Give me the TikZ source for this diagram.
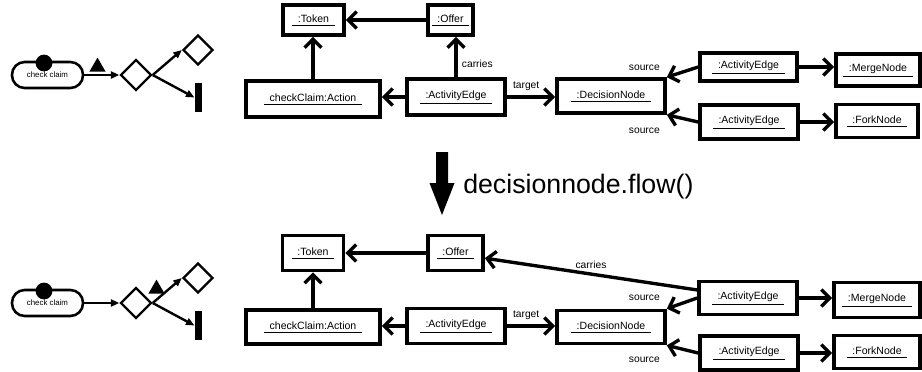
\documentclass[tikz,border=0pt]{standalone}
\usepackage{fontspec}
\setmainfont{Liberation Sans}
\usetikzlibrary{arrows.meta,shapes.geometric}

\newcommand{\objname}[1]{\vtop{\hbox{\kern4pt#1\kern4pt}\kern1.6pt\hrule height0.7pt}}

\begin{document}
\begin{tikzpicture}[x=0.025cm,y=-0.025cm]
\tikzstyle{every node}+=[inner sep=0pt]
\tikzstyle{obj}=[draw, line width=2.6pt, font=\fontsize{7.5}{9}\selectfont]
\tikzstyle{role}=[font=\fontsize{7.3}{9}\selectfont, inner sep=1pt]
\tikzstyle{link}=[line width=2.4pt, -{Straight Barb[length=6pt,width=12pt]}]
\tikzstyle{flow}=[line width=1.7pt, -{Triangle[length=6pt,width=5pt]}]
\tikzstyle{act}=[draw, line width=1.8pt, rounded corners=9pt, minimum width=1.775cm, minimum height=0.65cm, font=\fontsize{5.6}{7}\selectfont]
\tikzstyle{choice}=[draw, diamond, line width=1.7pt]
\tikzstyle{tokdot}=[circle, fill, minimum size=0.42cm]
\tikzstyle{toktri}=[regular polygon, regular polygon sides=3, fill, minimum size=0.47cm]
\tikzstyle{forkbar}=[fill, minimum width=0.19cm, minimum height=0.725cm]
\useasboundingbox (0,0) rectangle (922,371);

\node[act] (claimA) at (47.5,75) {check claim};
\node[tokdot] (dotA) at (44,63) {};
\node[choice, minimum size=0.775cm] (decideA) at (136,75) {};
\node[choice, minimum size=0.75cm] (nextA) at (198,50) {};
\node[forkbar] (barA) at (198.5,97.5) {};
\node[toktri] (triA) at (97.5,67) {};
\draw[flow] (claimA) -- (decideA);
\draw[flow] (decideA.east) -- (nextA.west);
\draw[flow] (decideA.east) -- (barA.west);

\node[obj, minimum width=1.525cm, minimum height=0.75cm] (tokenA) at (313.5,20) {\objname{:Token}};
\node[obj, minimum width=1.125cm, minimum height=0.75cm] (offerA) at (450.5,20) {\objname{:Offer}};
\node[obj, minimum width=3.35cm, minimum height=0.9cm] (actionA) at (313,99) {\objname{checkClaim:Action}};
\node[obj, minimum width=2.45cm, minimum height=0.9cm] (edgeA) at (456,97) {\objname{:ActivityEdge}};
\node[obj, minimum width=2.7cm, minimum height=0.85cm] (decA) at (611,96) {\objname{:DecisionNode}};
\node[obj, minimum width=2.425cm, minimum height=0.7cm] (upA) at (748.5,67) {\objname{:ActivityEdge}};
\node[obj, minimum width=2.1cm, minimum height=0.8cm] (mergeA) at (878,70) {\objname{:MergeNode}};
\node[obj, minimum width=2.45cm, minimum height=0.85cm] (loA) at (749,122) {\objname{:ActivityEdge}};
\node[obj, minimum width=2.05cm, minimum height=0.825cm] (forkA) at (877,121) {\objname{:ForkNode}};
\draw[link] (offerA) -- (tokenA);
\draw[link] (actionA.north) -- (actionA.north |- tokenA.south);
\draw[link] (edgeA.north) -- (edgeA.north |- offerA.south) node[role, pos=0.34, right=2pt] {carries};
\draw[link] (edgeA.west) -- (edgeA.west -| actionA.east);
\draw[link] (edgeA.east) -- (edgeA.east -| decA.west) node[role, pos=0.4, above=2pt] {target};
\draw[link] (upA.west) -- (decA.north east) node[role, at end, anchor=east, xshift=-0.1cm, yshift=0.225cm] {source};
\draw[link] (loA.west) -- (decA.south east) node[role, at end, anchor=east, xshift=-0.1cm, yshift=-0.4cm] {source};
\draw[link] (upA.east) -- (upA.east -| mergeA.west);
\draw[link] (loA.east) -- (loA.east -| forkA.west);

\fill (436,152) -- (448,152) -- (448,183) -- (454.5,183) -- (442,215) -- (429.5,183) -- (436,183) -- cycle;
\node[anchor=base west, font=\fontsize{19}{22}\selectfont] (call) at (463,193) {decisionnode.flow()};

\node[act] (claimB) at (47.5,303) {check claim};
\node[tokdot] (dotB) at (44,291) {};
\node[choice, minimum size=0.775cm] (decideB) at (136,303) {};
\node[choice, minimum size=0.75cm] (nextB) at (198,278) {};
\node[forkbar] (barB) at (198.5,325.5) {};
\node[toktri] (triB) at (156.5,289) {};
\draw[flow] (claimB) -- (decideB);
\draw[flow] (decideB.east) -- (nextB.west);
\draw[flow] (decideB.east) -- (barB.west);

\node[obj, minimum width=1.525cm, minimum height=0.875cm] (tokenB) at (313,253) {\objname{:Token}};
\node[obj, minimum width=1.375cm, minimum height=0.875cm] (offerB) at (455.5,253) {\objname{:Offer}};
\node[obj, minimum width=3.35cm, minimum height=0.85cm] (actionB) at (313,327) {\objname{checkClaim:Action}};
\node[obj, minimum width=2.45cm, minimum height=0.875cm] (edgeB) at (456,326) {\objname{:ActivityEdge}};
\node[obj, minimum width=2.7cm, minimum height=0.825cm] (decB) at (611,327) {\objname{:DecisionNode}};
\node[obj, minimum width=2.45cm, minimum height=0.825cm] (upB) at (748,298) {\objname{:ActivityEdge}};
\node[obj, minimum width=2.15cm, minimum height=0.875cm] (mergeB) at (877,300) {\objname{:MergeNode}};
\node[obj, minimum width=2.45cm, minimum height=0.85cm] (loB) at (749,353) {\objname{:ActivityEdge}};
\node[obj, minimum width=2.15cm, minimum height=0.825cm] (forkB) at (877,352) {\objname{:ForkNode}};
\draw[link] (offerB) -- (tokenB);
\draw[link] (actionB.north) -- (actionB.north |- tokenB.south);
\draw[link] (edgeB.west) -- (edgeB.west -| actionB.east);
\draw[link] (edgeB.east) -- (edgeB.east -| decB.west) node[role, pos=0.4, above=2pt] {target};
\draw[link] (upB.171) -- (offerB.-10) node[role, midway, above=2pt] {carries};
\draw[link] (upB.west) -- (decB.north east) node[role, at end, anchor=east, xshift=-0.1cm, yshift=0.26cm] {source};
\draw[link] (loB.west) -- (decB.south east) node[role, at end, anchor=east, xshift=-0.1cm, yshift=-0.36cm] {source};
\draw[link] (upB.east) -- (upB.east -| mergeB.west);
\draw[link] (loB.east) -- (loB.east -| forkB.west);
\end{tikzpicture}
\end{document}
